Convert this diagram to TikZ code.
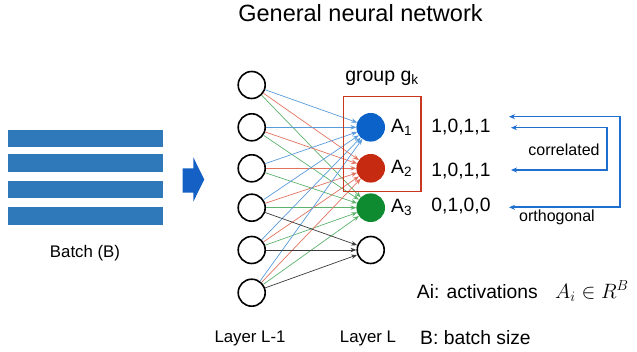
\documentclass[tikz,border=0pt]{standalone}
\usepackage{fontspec}
\setmainfont{Liberation Sans}
\usetikzlibrary{arrows.meta}
\definecolor{barblue}{HTML}{2F78B9}
\definecolor{bigarrow}{HTML}{1460C4}
\definecolor{nodeblue}{HTML}{0B63C9}
\definecolor{nodered}{HTML}{C62A10}
\definecolor{nodegreen}{HTML}{0E8A30}
\definecolor{eblue}{HTML}{5A9BDC}
\definecolor{ered}{HTML}{E2735F}
\definecolor{egreen}{HTML}{5DB36E}
\definecolor{egray}{HTML}{3A3A3A}
\definecolor{boxred}{HTML}{C8381E}
\definecolor{linkblue}{HTML}{1E6FD0}
\begin{document}
\begin{tikzpicture}[x=1pt,y=-1pt,
  neuron/.style={circle,draw=black,line width=1.6pt,minimum size=27pt,inner sep=0pt},
  bar/.style={fill=barblue,draw=none},
  edge/.style={line width=0.7pt,-{Stealth[length=6pt,width=4.5pt]}},
  txt/.style={inner sep=0pt,font=\fontsize{16.8}{20}\selectfont},
  bigtxt/.style={inner sep=0pt,font=\fontsize{19.3}{23}\selectfont},
  link/.style={draw=linkblue,line width=1.6pt,{Stealth[length=6pt,width=5pt]}-{Stealth[length=6pt,width=5pt]}}]
\useasboundingbox (0,0) rectangle (637,352);
% title
\node[inner sep=0pt,font=\fontsize{23.5}{28}\selectfont] (title) at (360.5,13) {General neural network};
% batch bars
\fill[bar] (8.3,130) rectangle (163.3,147.5);
\fill[bar] (8.3,154) rectangle (163.3,171.7);
\fill[bar] (8.3,180.7) rectangle (163.3,198.3);
\fill[bar] (8.3,207.3) rectangle (163.3,225);
\node[txt] (batch) at (85,253) {Batch (B)};
% block arrow
\fill[bigarrow] (182.7,168.3) -- (193.3,168.3) -- (193.3,157.3) -- (204.3,179.5) -- (193.3,201.7) -- (193.3,192.7) -- (182.7,192.7) -- cycle;
% left layer
\node[neuron] (l1) at (251.7,85) {};
\node[neuron] (l2) at (251.7,127.3) {};
\node[neuron] (l3) at (251.7,168.3) {};
\node[neuron] (l4) at (251.7,207.7) {};
\node[neuron] (l5) at (251.7,250) {};
\node[neuron] (l6) at (251.7,292.7) {};
% right layer
\node[neuron,draw=nodeblue,fill=nodeblue] (r1) at (370.7,127.3) {};
\node[neuron,draw=nodered,fill=nodered] (r2) at (370.7,168.3) {};
\node[neuron,draw=nodegreen,fill=nodegreen] (r3) at (370.7,207.7) {};
\node[neuron] (r4) at (370.7,250) {};
% edges
\foreach \i in {1,...,6}{
  \draw[edge,eblue] (l\i) -- (r1);
  \draw[edge,ered] (l\i) -- (r2);
  \draw[edge,egreen] (l\i) -- (r3);
}
\foreach \i in {4,5,6}{
  \draw[edge,egray] (l\i) -- (r4);
}
% group box
\draw[boxred,line width=1.4pt] (343.3,96.7) rectangle (421,191.7);
\node[inner sep=0pt,font=\fontsize{19.5}{23}\selectfont] (group) at (382,78) {group g\textsubscript{k}};
% activation labels
\node[bigtxt,anchor=west] (a1) at (391,127.3) {A\textsubscript{1}};
\node[bigtxt,anchor=west] (a2) at (391,168.3) {A\textsubscript{2}};
\node[bigtxt,anchor=west] (a3) at (391,207.7) {A\textsubscript{3}};
% sequences
\node[bigtxt] (s1) at (461,127) {1,0,1,1};
\node[bigtxt] (s2) at (461,171) {1,0,1,1};
\node[bigtxt] (s3) at (461,206) {0,1,0,0};
% links
\coordinate (o1) at (509,116.7);
\coordinate (oc) at (620,116.7);
\coordinate (o2) at (509,207.3);
\coordinate (c1) at (511,127.7);
\coordinate (cc) at (607,127.7);
\coordinate (c2) at (511,170);
\draw[link] (o1) -- (oc) |- (o2);
\draw[link] (c1) -- (cc) |- (c2);
\node[txt,font=\fontsize{16}{19}\selectfont] (corr) at (564,150) {correlated};
\node[txt,font=\fontsize{16}{19}\selectfont] (orth) at (557,217.5) {orthogonal};
% legend
\node[bigtxt,anchor=west] (act) at (416.7,292) {Ai: activations};
\node[inner sep=0pt,anchor=west,font=\fontsize{20}{24}\selectfont] (math) at (555,291) {$A_i \in R^B$};
\node[bigtxt,anchor=west] (bsize) at (420,338) {B: batch size};
\node[txt] (lay1) at (250,338) {Layer L-1};
\node[txt] (lay2) at (368,338) {Layer L};
\end{tikzpicture}
\end{document}
